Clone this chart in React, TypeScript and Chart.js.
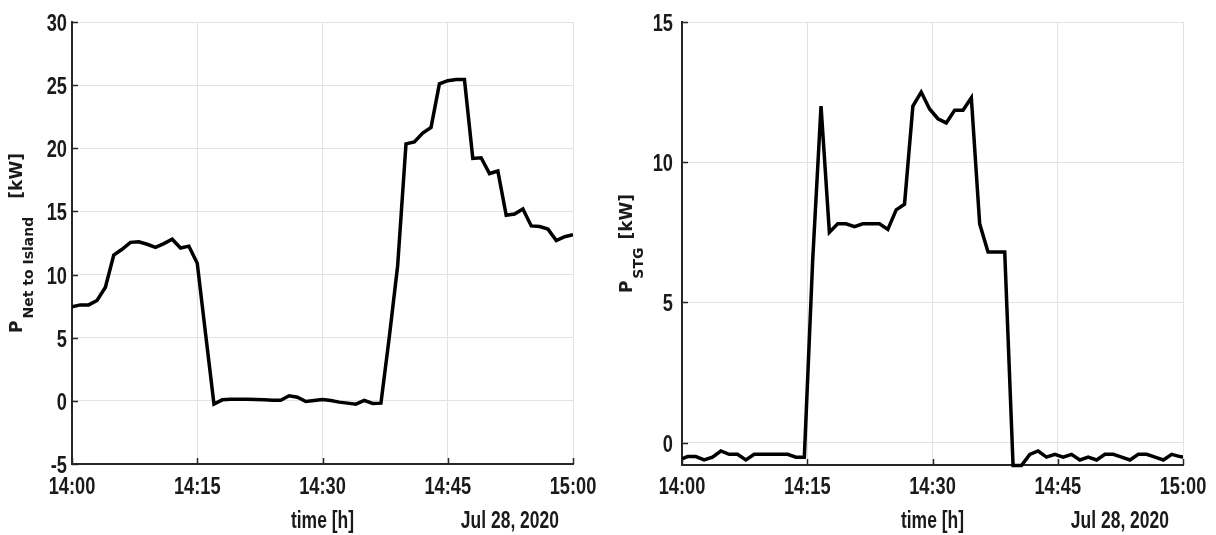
import React, { useEffect, useRef } from "react";
import { Chart, registerables } from "chart.js";

Chart.register(...registerables);

// ---------- data ----------
const AXIS_START = "14:00:00";
const AXIS_END = "15:00:00";
const X_TICK_TIMES = ["14:00:00", "14:15:00", "14:30:00", "14:45:00", "15:00:00"];
const X_TICK_LABELS = ["14:00", "14:15", "14:30", "14:45", "15:00"];
const X_TITLE = "time [h]";
const DATE_LABEL = "Jul 28, 2020";

// P Net to Island, sampled every minute from 14:00:00
const NET_START = "14:00:00";
const NET_STEP_SECONDS = 60;
const NET_VALUES = [
  7.45, 7.6, 7.6, 7.95, 9.0, 11.55, 12.0, 12.55, 12.6, 12.4, 12.15, 12.45, 12.8, 12.1, 12.25,
  10.9, 5.3, -0.25, 0.08, 0.12, 0.13, 0.13, 0.11, 0.08, 0.05, 0.05, 0.4, 0.29, -0.05, 0.03,
  0.11, 0.03, -0.1, -0.18, -0.26, 0.03, -0.21, -0.18, 5.05, 10.7, 20.35, 20.5, 21.2, 21.65,
  25.1, 25.35, 25.45, 25.45, 19.2, 19.25, 18.0, 18.2, 14.7, 14.8, 15.2, 13.85, 13.8, 13.6,
  12.7, 13.0, 13.15,
];
const NET_Y_TICKS = [-5, 0, 5, 10, 15, 20, 25, 30];

// P STG, sampled every minute from 13:59:39
const STG_START = "13:59:39";
const STG_STEP_SECONDS = 60;
const STG_VALUES = [
  -0.62, -0.5, -0.5, -0.62, -0.52, -0.3, -0.42, -0.42, -0.62, -0.42, -0.42, -0.42, -0.42,
  -0.42, -0.52, -0.52, 6.5, 12.0, 7.5, 7.8, 7.8, 7.7, 7.8, 7.8, 7.8, 7.6, 8.3, 8.5, 12.0,
  12.5, 11.9, 11.55, 11.4, 11.85, 11.85, 12.3, 7.8, 6.8, 6.8, 6.8, -0.82, -0.82, -0.42, -0.3,
  -0.52, -0.42, -0.52, -0.42, -0.62, -0.52, -0.62, -0.42, -0.42, -0.52, -0.62, -0.42, -0.42,
  -0.52, -0.62, -0.42, -0.5, -0.55,
];
const STG_Y_TICKS = [0, 5, 10, 15];

// ---------- helpers ----------
const toMinutes = (hms: string) => {
  const [h, m, s] = hms.split(":").map(Number);
  const [h0, m0, s0] = AXIS_START.split(":").map(Number);
  return h * 60 + m + s / 60 - (h0 * 60 + m0 + s0 / 60);
};

const toPoints = (start: string, stepSec: number, values: number[]) =>
  values.map((v, i) => ({ x: toMinutes(start) + (i * stepSec) / 60, y: v }));

const SANS = "'Liberation Sans', Arial, sans-serif";
const NARROW_SCALE = 0.76;
const WIDE = "'DejaVu Sans', Verdana, sans-serif";
const INK = "#1a1a1a";
const AXIS_COLOR = "#262626";
const GRID_COLOR = "#e2e2e2";

type PanelCfg = {
  left: number;
  points: { x: number; y: number }[];
  yMin: number;
  yMax: number;
  yTicks: number[];
  yWidth: number;
  xHeight: number;
  padRight: number;
  yTickPad: number;
  sub: string;
  gapAfterSub: number;
};

const narrowText = (
  ctx: CanvasRenderingContext2D,
  text: string,
  x: number,
  y: number,
  align: CanvasTextAlign,
  size: number
) => {
  ctx.save();
  ctx.translate(x, y);
  ctx.scale(NARROW_SCALE, 1);
  ctx.font = `bold ${size}px ${SANS}`;
  ctx.textAlign = align;
  ctx.textBaseline = "alphabetic";
  ctx.fillText(text, 0, 0);
  ctx.restore();
};

const annotate = (cfg: PanelCfg) => ({
  id: "annot",
  afterDraw(chart: any) {
    const ctx = chart.ctx as CanvasRenderingContext2D;
    const a = chart.chartArea;
    const xs = chart.scales.x;
    const ys = chart.scales.y;
    ctx.save();
    // inward tick marks
    ctx.strokeStyle = AXIS_COLOR;
    ctx.lineWidth = 1.5;
    ctx.beginPath();
    for (const v of cfg.yTicks) {
      const py = Math.round(ys.getPixelForValue(v)) + 0.5;
      ctx.moveTo(a.left, py);
      ctx.lineTo(a.left + 6, py);
    }
    for (const t of X_TICK_TIMES) {
      const px = Math.round(xs.getPixelForValue(toMinutes(t))) + 0.5;
      ctx.moveTo(px, a.bottom);
      ctx.lineTo(px, a.bottom - 6);
    }
    ctx.stroke();

    ctx.fillStyle = INK;
    // tick labels
    X_TICK_TIMES.forEach((t, i) => {
      narrowText(ctx, X_TICK_LABELS[i], xs.getPixelForValue(toMinutes(t)), 494, "center", 24);
    });
    for (const v of cfg.yTicks) {
      narrowText(ctx, String(v), a.left - cfg.yTickPad, ys.getPixelForValue(v) + 9, "right", 24);
    }

    // x title and date
    narrowText(ctx, X_TITLE, (a.left + a.right) / 2, 528, "center", 23);
    narrowText(ctx, DATE_LABEL, a.right - 14, 528, "right", 23);

    // y title with subscript (rotated)
    const mainFont = `bold 17px ${WIDE}`;
    const subFont = `bold 14px ${WIDE}`;
    ctx.font = mainFont;
    const wP = ctx.measureText("P").width;
    const wKW = ctx.measureText("[kW]").width;
    ctx.font = subFont;
    const wSub = ctx.measureText(cfg.sub).width;
    const g1 = 2;
    const total = wP + g1 + wSub + cfg.gapAfterSub + wKW;
    const cy = (a.top + a.bottom) / 2;
    let y0 = cy + total / 2;
    const mainBase = a.left - 50;
    const subBase = a.left - 39;
    const put = (text: string, font: string, base: number, start: number) => {
      ctx.save();
      ctx.translate(base, start);
      ctx.rotate(-Math.PI / 2);
      ctx.font = font;
      ctx.textAlign = "left";
      ctx.textBaseline = "alphabetic";
      ctx.fillText(text, 0, 0);
      ctx.restore();
    };
    put("P", mainFont, mainBase, y0);
    y0 -= wP + g1;
    put(cfg.sub, subFont, subBase, y0);
    y0 -= wSub + cfg.gapAfterSub;
    put("[kW]", mainFont, mainBase, y0);
    ctx.restore();
  },
});

const buildConfig = (cfg: PanelCfg): any => ({
  type: "line",
  data: {
    datasets: [
      {
        data: cfg.points,
        borderColor: "#000000",
        borderWidth: 3.5,
        pointRadius: 0,
        tension: 0,
        borderJoinStyle: "miter",
        fill: false,
        clip: { left: 0, right: 0, top: 6, bottom: 6 },
      },
    ],
  },
  options: {
    responsive: false,
    animation: false,
    devicePixelRatio: 1,
    events: [],
    layout: { padding: { left: 0, right: cfg.padRight, top: 22, bottom: 0 } },
    plugins: { legend: { display: false }, tooltip: { enabled: false } },
    scales: {
      x: {
        type: "linear",
        min: toMinutes(AXIS_START),
        max: toMinutes(AXIS_END),
        afterBuildTicks: (s: any) => {
          s.ticks = X_TICK_TIMES.map((t) => ({ value: toMinutes(t) }));
        },
        afterFit: (s: any) => {
          s.height = cfg.xHeight;
        },
        ticks: { display: false },
        grid: { color: GRID_COLOR, lineWidth: 1, drawTicks: false },
        border: { color: AXIS_COLOR, width: 2 },
      },
      y: {
        type: "linear",
        min: cfg.yMin,
        max: cfg.yMax,
        afterBuildTicks: (s: any) => {
          s.ticks = cfg.yTicks.map((v) => ({ value: v }));
        },
        afterFit: (s: any) => {
          s.width = cfg.yWidth;
        },
        ticks: { display: false },
        grid: { color: GRID_COLOR, lineWidth: 1, drawTicks: false },
        border: { color: AXIS_COLOR, width: 2 },
      },
    },
  },
  plugins: [annotate(cfg)],
});

const PANELS: PanelCfg[] = [
  {
    left: 0,
    points: toPoints(NET_START, NET_STEP_SECONDS, NET_VALUES),
    yMin: -5,
    yMax: 30,
    yTicks: NET_Y_TICKS,
    yWidth: 72,
    xHeight: 71,
    padRight: 35,
    yTickPad: 5,
    sub: "Net to Island",
    gapAfterSub: 18,
  },
  {
    left: 608,
    points: toPoints(STG_START, STG_STEP_SECONDS, STG_VALUES),
    yMin: -0.8,
    yMax: 15,
    yTicks: STG_Y_TICKS,
    yWidth: 74,
    xHeight: 70,
    padRight: 33,
    yTickPad: 9,
    sub: "STG",
    gapAfterSub: 8,
  },
];

function Panel({ cfg }: { cfg: PanelCfg }) {
  const ref = useRef<HTMLCanvasElement>(null);
  useEffect(() => {
    const chart = new Chart(ref.current as HTMLCanvasElement, buildConfig(cfg));
    return () => chart.destroy();
  }, [cfg]);
  return (
    <canvas
      ref={ref}
      width={608}
      height={535}
      style={{ position: "absolute", left: cfg.left, top: 0, width: 608, height: 535 }}
    />
  );
}

export default function App() {
  return (
    <div
      style={{
        position: "absolute",
        left: 0,
        top: 0,
        width: 1216,
        height: 535,
        background: "#ffffff",
        overflow: "hidden",
      }}
    >
      {PANELS.map((p, i) => (
        <Panel key={i} cfg={p} />
      ))}
    </div>
  );
}
